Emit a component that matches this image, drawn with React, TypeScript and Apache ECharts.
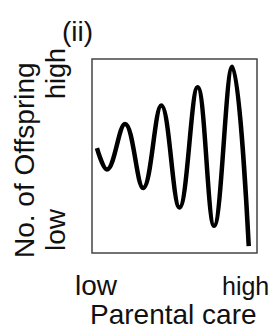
import React, { useEffect, useRef } from "react";
import * as echarts from "echarts";

const care = [3, 9, 20, 31, 42, 53, 64, 74, 85, 95];
const offspring = [54, 43, 66.5, 33.5, 76, 23.5, 85.5, 14, 96, 3.5];
const xTickLabels = ["low", "high"];
const yTickLabels = ["low", "high"];
const panelLabel = "(ii)";
const xName = "Parental care";
const yName = "No. of Offspring";

export default function App() {
  const ref = useRef<HTMLDivElement>(null);
  useEffect(() => {
    const chart = echarts.init(ref.current!, null, { renderer: "svg" });
    const font = "Liberation Sans, Arial, sans-serif";
    const txt = (text: string, x: number, y: number, size: number, rotated = false) => ({
      type: "text",
      x,
      y,
      rotation: rotated ? Math.PI / 2 : 0,
      style: {
        text,
        fontFamily: font,
        fontSize: size,
        fill: "#111",
        align: "left",
        verticalAlign: "top",
      },
    });
    chart.setOption({
      animation: false,
      grid: {
        left: 92,
        top: 59,
        width: 165,
        height: 194,
        show: true,
        borderColor: "#444",
        borderWidth: 1.5,
        backgroundColor: "#fff",
      },
      xAxis: { type: "value", min: 0, max: 100, show: false },
      yAxis: { type: "value", min: 0, max: 100, show: false },
      series: [
        {
          type: "line",
          data: care.map((c, i) => [c, offspring[i]]),
          smooth: 0.4,
          symbol: "none",
          lineStyle: { color: "#000", width: 4.5 },
        },
      ],
      graphic: [
        txt(xTickLabels[0], 75, 271, 28),
        txt(xTickLabels[1], 222, 273, 25),
        txt(xName, 90, 300, 28),
        txt(yTickLabels[0], 41, 251, 28, true),
        txt(yTickLabels[1], 42, 99, 27, true),
        txt(yName, 10, 258, 28, true),
        txt(panelLabel, 62, 17, 28),
      ],
    });
    return () => chart.dispose();
  }, []);
  return <div ref={ref} style={{ width: 273, height: 331, position: "absolute", left: 0, top: 0 }} />;
}
